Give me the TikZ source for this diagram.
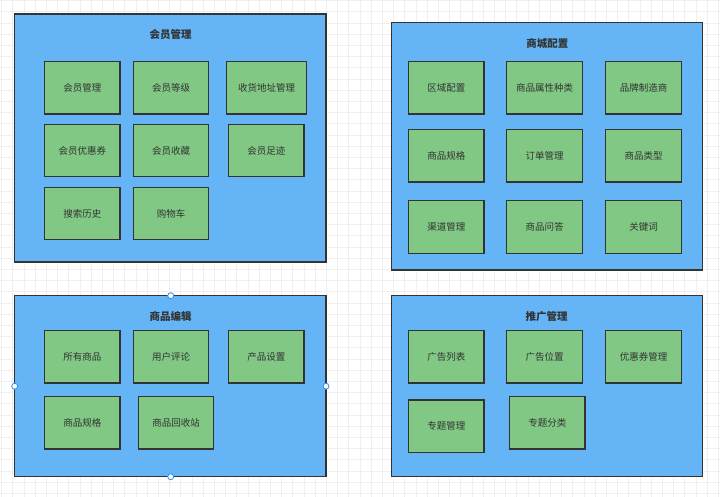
\documentclass[tikz,border=0pt]{standalone}
\usepackage{fontspec}
\newfontfamily\cjk{Noto Sans CJK SC}
\definecolor{panelblue}{HTML}{64B4F6}
\definecolor{itemgreen}{HTML}{80C883}
\definecolor{edgegray}{HTML}{333333}
\definecolor{gridgray}{HTML}{EFEFEF}
\definecolor{handleblue}{HTML}{2D8CF0}
\tikzset{
  panel/.style={draw=edgegray, line width=1.3pt, fill=panelblue},
  item/.style={draw=edgegray, line width=1.3pt, fill=itemgreen, text=edgegray, font=\cjk\fontsize{9.5}{11}\selectfont},
  ptitle/.style={text=edgegray, font=\cjk\bfseries\fontsize{10.5}{12}\selectfont},
  handle/.style={circle, draw=handleblue, fill=white, line width=0.8pt, inner sep=0pt, minimum size=6pt}
}
\newcommand{\itembox}[6]{% name, x1, y1, x2, y2, text
  \draw[item] (#2,#3) rectangle (#4,#5);
  \node[text=edgegray, font=\cjk\fontsize{9.5}{11}\selectfont] (#1) at ({(#2+#4)/2},{(#3+#5)/2}) {#6};
}
\begin{document}
\begin{tikzpicture}[x=1pt,y=-1pt]
\useasboundingbox (0,0) rectangle (720,497);
\fill[white] (0,0) rectangle (720,497);
\foreach \i in {0,...,64} {
  \draw[gridgray, line width=0.6pt] ({1.5+\i*11.2},0) -- ({1.5+\i*11.2},497);
}
\foreach \j in {0,...,44} {
  \draw[gridgray, line width=0.6pt] (0,{0.5+\j*11.2}) -- (720,{0.5+\j*11.2});
}
% Panel 1
\draw[panel] (14.7,14) rectangle (326,262);
\node[ptitle] (t1) at (170.7,34.3) {会员管理};
\itembox{a1}{44.7}{61.3}{120}{114}{会员管理}
\itembox{a2}{133.3}{61.3}{208.7}{114}{会员等级}
\itembox{a3}{226.3}{61.3}{306.7}{114}{收货地址管理}
\itembox{a4}{44.7}{124.3}{120}{176.7}{会员优惠券}
\itembox{a5}{133.3}{124.3}{208.7}{176.7}{会员收藏}
\itembox{a6}{228.7}{124.3}{304}{176.7}{会员足迹}
\itembox{a7}{44.7}{187.3}{120}{239.7}{搜索历史}
\itembox{a8}{133.3}{187.3}{208.7}{239.7}{购物车}
% Panel 2
\draw[panel] (391.3,22.3) rectangle (702.7,270);
\node[ptitle] (t2) at (547.3,43.3) {商城配置};
\itembox{b1}{408.7}{61.3}{484}{114}{区域配置}
\itembox{b2}{506.7}{61.3}{582.3}{114}{商品属性种类}
\itembox{b3}{605.7}{61.3}{681.3}{114}{品牌制造商}
\itembox{b4}{408.7}{129.7}{484}{182}{商品规格}
\itembox{b5}{506.7}{129.7}{582.3}{182}{订单管理}
\itembox{b6}{605.7}{129.7}{681.3}{182}{商品类型}
\itembox{b7}{408.7}{200.7}{484}{253.3}{渠道管理}
\itembox{b8}{506.7}{200.7}{582.3}{253.3}{商品问答}
\itembox{b9}{605.7}{200.7}{681.3}{253.3}{关键词}
% Panel 3
\draw[panel] (14.7,295.7) rectangle (326,476.7);
\node[ptitle] (t3) at (170.7,316.7) {商品编辑};
\itembox{c1}{44.7}{330.3}{120}{383}{所有商品}
\itembox{c2}{133.3}{330.3}{208.7}{383}{用户评论}
\itembox{c3}{228.7}{330.3}{304}{383}{产品设置}
\itembox{c4}{44.7}{396.3}{120}{449}{商品规格}
\itembox{c5}{138.3}{396.3}{213.7}{449}{商品回收站}
\node[handle] (h1) at (170.7,295.7) {};
\node[handle] (h2) at (14.7,386.2) {};
\node[handle] (h3) at (326,386.2) {};
\node[handle] (h4) at (170.7,476.7) {};
% Panel 4
\draw[panel] (391.3,295.7) rectangle (702.7,476.7);
\node[ptitle] (t4) at (546.7,316.7) {推广管理};
\itembox{d1}{408.7}{330.3}{484}{383}{广告列表}
\itembox{d2}{506.7}{330.3}{582.3}{383}{广告位置}
\itembox{d3}{605.7}{330.3}{681.3}{383}{优惠券管理}
\itembox{d4}{408.7}{400}{484}{452.7}{专题管理}
\itembox{d5}{509.7}{396.3}{585}{449}{专题分类}
\end{tikzpicture}
\end{document}
